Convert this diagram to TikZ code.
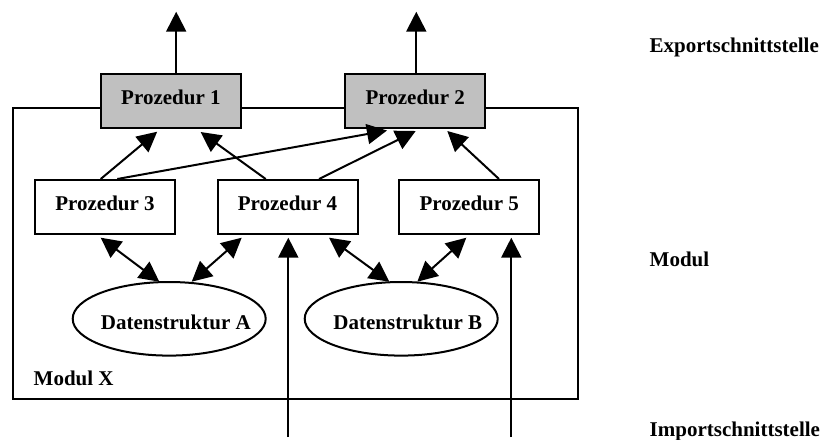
\documentclass[tikz,border=0pt]{standalone}
\usepackage{fontspec}
\setmainfont{Liberation Serif}
\usetikzlibrary{arrows.meta,calc,shapes.geometric}
\tikzset{
  every node/.style={font=\fontsize{10.5}{12.6}\selectfont\bfseries},
  prozbox/.style={draw, line width=1pt, minimum width=70pt, minimum height=27pt, inner sep=0pt, fill=white},
  exportbox/.style={prozbox, fill=boxgray},
  datastore/.style={draw, ellipse, line width=1pt, minimum width=96.5pt, minimum height=36.8pt, inner sep=0pt},
  sidelabel/.style={anchor=base west, inner sep=0pt},
  link/.style={line width=1pt, -{Triangle[length=10pt,width=10pt]}},
  duplex/.style={line width=1pt, {Triangle[length=10pt,width=10pt]}-{Triangle[length=10pt,width=10pt]}},
}
\definecolor{boxgray}{RGB}{192,192,192}
\newcommand{\uptext}[1]{\raisebox{1.6pt}[\height][\depth]{#1}}
% text of a data structure: zero-width box so the ellipse keeps its set size
\newcommand{\dstext}[1]{\makebox[0pt]{\hspace*{6.6pt}\raisebox{-2pt}[\height][\depth]{#1}}}
\begin{document}
\begin{tikzpicture}[x=0.5pt, y=-0.5pt]
\useasboundingbox (0,0) rectangle (824,439);

% module frame
\draw[line width=1pt] (12.7,107.7) rectangle (577.7,399.3);
\node[sidelabel] (modx) at (33.3,385.7) {Modul X};

% exported procedures
\node[exportbox] (p1) at (170.9,101) {\uptext{Prozedur 1}};
\node[exportbox] (p2) at (415.3,101) {\uptext{Prozedur 2}};

% internal procedures
\node[prozbox] (p3) at (105,207) {\uptext{Prozedur 3}};
\node[prozbox] (p4) at (287.5,207) {\uptext{Prozedur 4}};
\node[prozbox] (p5) at (469.3,207) {\uptext{Prozedur 5}};

% data structures
\node[datastore] (da) at (169.2,318.8) {\dstext{Datenstruktur A}};
\node[datastore] (db) at (401.2,318.8) {\dstext{Datenstruktur B}};

% free ends of the interface arrows
\coordinate (e1) at ($(p1.north west)+(76.3,-61.3)$);
\coordinate (e2) at ($(p2.north west)+(72,-61.3)$);
\coordinate (i1) at ($(p4.south west)+(71.8,202)$);
\coordinate (i2) at ($(p5.south west)+(113,202)$);

% export interface
\draw[link] ($(p1.north west)+(76.3,0)$) -- (e1);
\draw[link] ($(p2.north west)+(72,0)$) -- (e2);

% calls between procedures
\draw[link] ($(p3.north west)+(66.7,0)$) -- ($(p1.south west)+(57.3,2.7)$);
\draw[link] ($(p4.north west)+(49.2,0)$) -- ($(p1.south west)+(100.7,3)$);
\draw[link] ($(p3.north west)+(83.3,0)$) -- ($(p2.south west)+(42.7,1.5)$);
\draw[link] ($(p4.north west)+(102.5,0)$) -- ($(p2.south west)+(71.4,2)$);
\draw[link] ($(p5.north west)+(100.7,0)$) -- ($(p2.south west)+(103,2)$);

% access to data structures
\draw[duplex] ($(p3.south west)+(66.7,2.7)$) -- ($(da.center)+(-9.9,-37.1)$);
\draw[duplex] ($(p4.south west)+(25.2,2.7)$) -- ($(da.center)+(22.5,-37.1)$);
\draw[duplex] ($(p4.south west)+(112.5,2.7)$) -- ($(db.center)+(-11.9,-37.1)$);
\draw[duplex] ($(p5.south west)+(68,2.7)$) -- ($(db.center)+(16.1,-37.1)$);

% import interface
\draw[link] (i1) -- ($(p4.south west)+(71.8,2.7)$);
\draw[link] (i2) -- ($(p5.south west)+(113,2.7)$);

% level captions
\node[sidelabel] (lexp) at (649.3,52.3) {Exportschnittstelle};
\node[sidelabel] (lmod) at (649.3,266.7) {Modul};
\node[sidelabel] (limp) at (649.3,436) {Importschnittstelle};
\end{tikzpicture}
\end{document}
